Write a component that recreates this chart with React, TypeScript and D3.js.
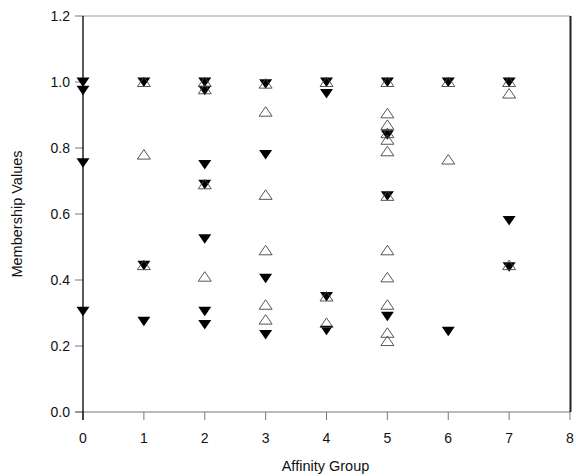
import React, { useEffect, useRef } from 'react'
import * as d3 from 'd3'

// affinity groups on the x axis
const groups = [0, 1, 2, 3, 4, 5, 6, 7]

// filled (down) triangles, one list per group
const filledValues = [
  [1.0, 0.975, 0.755, 0.305],
  [1.0, 0.445, 0.275],
  [1.0, 0.975, 0.75, 0.69, 0.525, 0.305, 0.265],
  [0.995, 0.78, 0.405, 0.235],
  [1.0, 0.965, 0.35, 0.248],
  [1.0, 0.84, 0.655, 0.29],
  [1.0, 0.245],
  [1.0, 0.58, 0.44],
]

// open (up) triangles, one list per group
const openValues = [
  [],
  [1.0, 0.78, 0.445],
  [1.0, 0.978, 0.69, 0.41],
  [0.995, 0.91, 0.658, 0.49, 0.325, 0.28],
  [1.0, 0.35, 0.27],
  [1.0, 0.905, 0.87, 0.845, 0.825, 0.79, 0.655, 0.49, 0.408, 0.325, 0.24, 0.215],
  [1.0, 0.765],
  [1.0, 0.965, 0.445],
]

const xTicks = [0, 1, 2, 3, 4, 5, 6, 7, 8]
const yTicks = [0, 0.2, 0.4, 0.6, 0.8, 1.0, 1.2]

const width = 576
const height = 476
const left = 83
const right = 570
const top = 16
const bottom = 412

export default function App() {
  const ref = useRef<SVGSVGElement>(null)

  useEffect(() => {
    if (!ref.current) return
    const svg = d3.select(ref.current)
    svg.selectAll('*').remove()

    const x = d3.scaleLinear().domain([0, 8]).range([left, right])
    const y = d3.scaleLinear().domain([0, 1.2]).range([bottom, top])
    const font = 'Liberation Sans, Arial, Helvetica, sans-serif'

    // frame: top and bottom gray, right dark
    svg.append('line')
      .attr('x1', left).attr('x2', right).attr('y1', top).attr('y2', top)
      .attr('stroke', '#999').attr('stroke-width', 1)
    svg.append('line')
      .attr('x1', left - 8).attr('x2', right).attr('y1', bottom).attr('y2', bottom)
      .attr('stroke', '#777').attr('stroke-width', 1)
    svg.append('line')
      .attr('x1', right + 0.5).attr('x2', right + 0.5).attr('y1', top).attr('y2', bottom)
      .attr('stroke', '#222').attr('stroke-width', 2)

    // y ticks
    const yg = svg.append('g')
    yg.selectAll('line').data(yTicks).join('line')
      .attr('x1', left - 8).attr('x2', left)
      .attr('y1', d => y(d)).attr('y2', d => y(d))
      .attr('stroke', '#777')
    yg.selectAll('text').data(yTicks).join('text')
      .attr('x', left - 13).attr('y', d => y(d) + 5)
      .attr('text-anchor', 'end')
      .style('font-family', font).style('font-size', '14px').style('fill', '#111')
      .text(d => d3.format('.1f')(d))

    // x ticks
    const xg = svg.append('g')
    xg.selectAll('line').data(xTicks).join('line')
      .attr('x1', d => x(d)).attr('x2', d => x(d))
      .attr('y1', bottom).attr('y2', bottom + 8)
      .attr('stroke', '#777')
    xg.selectAll('text').data(xTicks).join('text')
      .attr('x', d => x(d)).attr('y', bottom + 31)
      .attr('text-anchor', 'middle')
      .style('font-family', font).style('font-size', '14px').style('fill', '#111')
      .text(d => d)

    // left axis line (black)
    svg.append('line')
      .attr('x1', left).attr('x2', left).attr('y1', top).attr('y2', bottom + 8)
      .attr('stroke', '#000').attr('stroke-width', 1.3)

    // axis titles
    svg.append('text')
      .attr('x', (left + right) / 2 - 1).attr('y', 471)
      .attr('text-anchor', 'middle')
      .style('font-family', font).style('font-size', '14.5px').style('fill', '#111')
      .text('Affinity Group')
    svg.append('text')
      .attr('transform', `translate(22, ${(top + bottom) / 2}) rotate(-90)`)
      .attr('text-anchor', 'middle')
      .style('font-family', font).style('font-size', '14.5px').style('fill', '#111')
      .text('Membership Values')

    // triangle symbols
    const downTri = {
      draw(ctx: any) {
        ctx.moveTo(-6.5, -4.5)
        ctx.lineTo(6.5, -4.5)
        ctx.lineTo(0, 5)
        ctx.closePath()
      },
    }
    const upTri = {
      draw(ctx: any) {
        ctx.moveTo(-6.5, 4.5)
        ctx.lineTo(6.5, 4.5)
        ctx.lineTo(0, -5)
        ctx.closePath()
      },
    }

    const filled = groups.flatMap((g, i) => filledValues[i].map(v => ({ g, v })))
    const open = groups.flatMap((g, i) => openValues[i].map(v => ({ g, v })))

    svg.append('g').selectAll('path').data(filled).join('path')
      .attr('d', d3.symbol().type(downTri as any)() as string)
      .attr('transform', d => `translate(${x(d.g)}, ${y(d.v)})`)
      .attr('fill', '#000')

    svg.append('g').selectAll('path').data(open).join('path')
      .attr('d', d3.symbol().type(upTri as any)() as string)
      .attr('transform', d => `translate(${x(d.g)}, ${y(d.v)})`)
      .attr('fill', 'none')
      .attr('stroke', '#444')
      .attr('stroke-width', 0.9)
  }, [])

  return (
    <svg
      ref={ref}
      width={width}
      height={height}
      style={{ position: 'absolute', left: 0, top: 0, background: '#fff' }}
    />
  )
}
